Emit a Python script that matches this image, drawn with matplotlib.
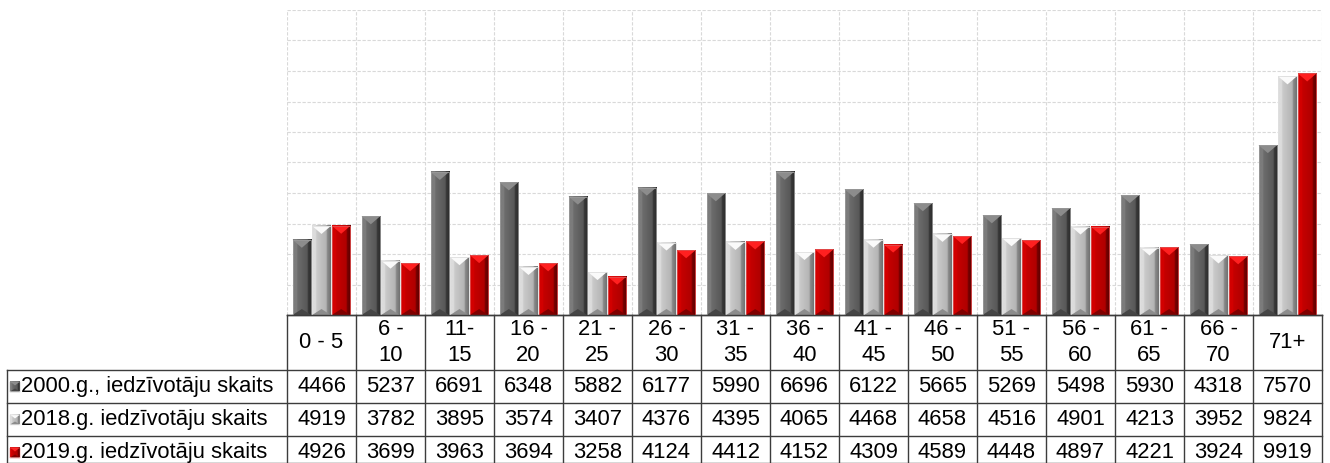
import numpy as np
import matplotlib.pyplot as plt
from matplotlib.colors import LinearSegmentedColormap
from matplotlib.patches import Polygon, Rectangle

plt.rcParams['font.family'] = ['Liberation Sans', 'DejaVu Sans']

# data
groups = ["0 - 5", "6 -\n10", "11-\n15", "16 -\n20", "21 -\n25", "26 -\n30",
          "31 -\n35", "36 -\n40", "41 -\n45", "46 -\n50", "51 -\n55",
          "56 -\n60", "61 -\n65", "66 -\n70", "71+"]
series_names = ["2000.g., iedzīvotāju skaits",
                "2018.g. iedzīvotāju skaits",
                "2019.g. iedzīvotāju skaits"]
s2000 = [4466, 5237, 6691, 6348, 5882, 6177, 5990, 6696, 6122, 5665, 5269, 5498, 5930, 4318, 7570]
s2018 = [4919, 3782, 3895, 3574, 3407, 4376, 4395, 4065, 4468, 4658, 4516, 4901, 4213, 3952, 9824]
s2019 = [4926, 3699, 3963, 3694, 3258, 4124, 4412, 4152, 4309, 4589, 4448, 4897, 4221, 3924, 9919]
series = [s2000, s2018, s2019]

# (left face, centre light, centre dark, right face, right edge, top chevron, bottom chevron, outline)
styles = [
    ("#7c7c7c", "#6c6c6c", "#585858", "#3a3a3a", "#2a2a2a", "#8c8c8c", "#454545", "#9a9a9a"),
    ("#dcdcdc", "#cacaca", "#b4b4b4", "#8c8c8c", "#707070", "#fafafa", "#8c8c8c", "#e0e0e0"),
    ("#d20000", "#c40000", "#b00000", "#7a0000", "#5a0000", "#ff2020", "#800000", "#e05050"),
]

W, H = 1330, 463
fig = plt.figure(figsize=(W / 100, H / 100), dpi=100)

x0, x1, ybase, ytop = 287, 1322, 315, 10
ax = fig.add_axes([x0 / W, (H - ybase) / H, (x1 - x0) / W, (ybase - ytop) / H])
n = len(groups)
ax.set_xlim(-0.5, n - 0.5)
ymin, ymax = 2000, 12000
ax.set_ylim(ymin, ymax)
px_y = (ymax - ymin) / (ybase - ytop)


def bevel_bar(a, xl, width, bottom, top, st, tri_h, bot_h, lw=0.6):
    cmap = LinearSegmentedColormap.from_list(
        "b", [(0, st[0]), (0.2, st[0]), (0.24, st[1]), (0.76, st[2]),
              (0.8, st[3]), (1, st[4])])
    grad = np.linspace(0, 1, 128).reshape(1, -1)
    a.imshow(grad, cmap=cmap, extent=(xl, xl + width, bottom, top),
             aspect='auto', zorder=3, interpolation='bilinear')
    xc = xl + width / 2
    a.add_patch(Polygon([(xl, top), (xl + width, top), (xc, top - tri_h)],
                        closed=True, facecolor=st[5], edgecolor='none', zorder=4))
    a.add_patch(Polygon([(xl, bottom), (xl + width, bottom), (xc, bottom + bot_h)],
                        closed=True, facecolor=st[6], edgecolor='none', zorder=4))
    a.add_patch(Rectangle((xl, bottom), width, top - bottom, fill=False,
                          edgecolor=st[7], lw=lw, zorder=5))


bw = 0.27
offsets = [-0.285, 0.0, 0.285]
for si, vals in enumerate(series):
    for i, v in enumerate(vals):
        bevel_bar(ax, i + offsets[si] - bw / 2, bw, ymin, v, styles[si],
                  8 * px_y, 6 * px_y)

ax.set_yticks(np.arange(ymin, ymax + 1, 1000))
ax.set_xticks(np.arange(-0.5, n, 1))
ax.grid(True, color='#d9d9d9', linestyle=(0, (3, 1.5)), linewidth=0.8)
ax.set_axisbelow(True)
ax.tick_params(left=False, bottom=False, labelleft=False, labelbottom=False)
for s in ['left', 'right', 'top']:
    ax.spines[s].set_visible(False)
ax.spines['bottom'].set_color('#3c3c3c')
ax.spines['bottom'].set_linewidth(1)

# table under the chart
tl = 7
at = fig.add_axes([tl / W, 0, (x1 - tl) / W, (H - ybase) / H])
unit = (x1 - x0) / n
xleft = n - 0.5 - (x1 - tl) / unit
at.set_xlim(xleft, n - 0.5)
at.set_ylim(0, H - ybase)
at.axis('off')

row_edges = [H - 315, H - 370, H - 403, H - 436, 0]
lc = '#3c3c3c'
at.plot([-0.5, n - 0.5], [row_edges[0]] * 2, color=lc, lw=1, clip_on=False)
for r in row_edges[1:]:
    at.plot([xleft, n - 0.5], [r, r], color=lc, lw=1, clip_on=False)
for k in range(n + 1):
    at.plot([k - 0.5] * 2, [0, row_edges[0]], color=lc, lw=1, clip_on=False)
at.plot([xleft] * 2, [0, row_edges[1]], color=lc, lw=1, clip_on=False)

fs = 15.8
hc = (row_edges[0] + row_edges[1]) / 2
for i, g in enumerate(groups):
    at.text(i, hc, g, ha='center', va='center', fontsize=fs,
            multialignment='center', linespacing=1.3)

for si, vals in enumerate(series):
    yc = (row_edges[si + 1] + row_edges[si + 2]) / 2
    if si == 2:
        yc = row_edges[3] - 16.5
    for i, v in enumerate(vals):
        at.text(i, yc, str(v), ha='center', va='center', fontsize=fs)
    ix = xleft + 3 / unit
    bevel_bar(at, ix, 10 / unit, yc - 5, yc + 5, styles[si], 4, 3, lw=0.3)
    at.text(xleft + 14 / unit, yc, series_names[si], ha='left', va='center', fontsize=fs)

fig.savefig('out.png', dpi=100)
